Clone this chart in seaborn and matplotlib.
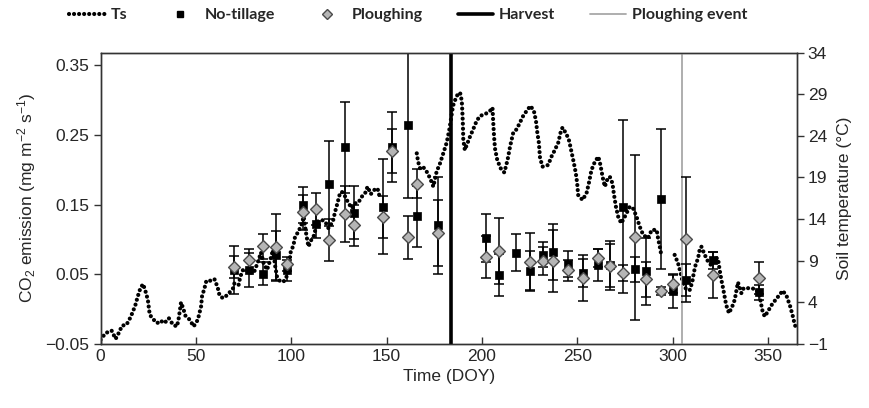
import numpy as np
import pandas as pd
import matplotlib
matplotlib.use("Agg")
import matplotlib.pyplot as plt
import seaborn as sns
from matplotlib.lines import Line2D

# ---------------- data ----------------
# Soil temperature (Ts), three continuous segments (gaps = missing data)
ts_seg1 = [(0, -0.5), (2.6, 0.3), (5.8, 0.6), (7.9, -0.4), (9.5, 0.3), (11.3, 1.2), (13.6, 1.3),
           (15.7, 2.2), (17, 2.9), (18.3, 3.7), (19.5, 4.7), (20.9, 5.7), (22.3, 6.2), (23.6, 5.3),
           (24.8, 4.3), (25.8, 2.5), (27.9, 1.9), (29.7, 1.5), (31.4, 1.8), (33.5, 1.5), (35.8, 2.1),
           (38, 1.3), (40.1, 1.1), (41, 2.1), (42.2, 4.0), (43.3, 3.3), (44.5, 2.4), (46.8, 1.9),
           (48.8, 1.1), (51, 1.9), (52.7, 3.5), (53.2, 4.7), (54.5, 5.7), (55.5, 6.6), (57.6, 6.6),
           (59.7, 6.8), (61.4, 5.8), (62.4, 4.8), (64.2, 4.5), (66.6, 4.9), (69.5, 5.7), (70.2, 6.3),
           (72.4, 6.1), (73.3, 7.1), (74.7, 7.9), (76.4, 8.0), (78.3, 7.6), (80.3, 7.5), (82.9, 9.1),
           (84.1, 10.0), (85.5, 8.7), (87.3, 7.9), (89, 9.1), (90.4, 10.3), (91.6, 8.3), (92.5, 7.1),
           (94.2, 6.5), (96, 6.5), (98.6, 7.5), (99.5, 9.9), (101.2, 10.9), (102, 11.9), (103.8, 12.5),
           (105.6, 13.5), (106.5, 14.3), (107.9, 12.1), (109, 10.7), (110.5, 11.5), (111.7, 11.9),
           (113.8, 13.7), (116, 13.9), (117.8, 13.7), (119.5, 12.9), (121.8, 13.7), (123, 14.9),
           (124.2, 15.9), (125.3, 16.9), (126.5, 17.3), (128.3, 16.7), (130, 15.9), (131.8, 15.3),
           (133.5, 15.9), (135.2, 16.0), (137, 16.7), (138.7, 17.1), (140, 17.9), (141.7, 17.0),
           (143.5, 17.5), (145.2, 17.7), (146.2, 16.8)]
ts_seg2 = [(165.8, 21.9), (166.5, 20.9), (167.5, 20.1), (169, 20.3), (171, 19.7), (172.8, 18.9),
           (174.5, 17.9), (176.2, 19.7), (178, 20.7), (179.7, 21.9), (181.5, 23.2), (182.9, 24.8),
           (184, 26.4), (184.8, 27.6), (186.7, 28.8), (188.5, 29.2), (189.4, 28.2), (189.8, 26.4),
           (190, 25.2), (190.2, 23.5), (191, 22.3), (192, 22.9), (193.7, 23.9), (195.4, 24.8),
           (197.2, 25.8), (199, 26.4), (201.6, 26.6), (204.2, 27.0), (205.5, 27.4), (205.9, 25.6),
           (206.3, 24.0), (206.8, 22.5), (208, 21.1), (209.8, 20.1), (211.7, 19.6), (213.4, 21.1),
           (214.7, 22.7), (216.4, 24.4), (218.2, 24.8), (219.9, 25.6), (221.6, 26.4), (223.4, 27.0),
           (225.4, 27.6), (227.2, 27.0), (228.3, 25.8), (229, 24.4), (229.8, 23.2), (230.4, 21.4),
           (231.7, 20.3), (233.2, 20.4), (234.7, 20.5), (236.4, 21.5), (238.2, 22.3), (240, 23.2),
           (241.2, 24.4), (242.2, 25.0), (244.3, 24.2), (245.7, 23.4), (246.9, 22.1), (248.2, 20.7),
           (249.2, 19.5), (249.9, 18.3), (250.4, 16.9), (252.7, 16.3), (254.8, 17.1), (256.2, 18.5),
           (257.4, 19.9), (259.2, 20.9), (261, 21.5), (262.1, 20.5), (263.2, 19.1), (264.4, 17.9),
           (265.6, 18.7), (267, 19.1), (268.4, 18.3), (269.1, 17.1), (270.2, 15.5), (271.4, 14.3),
           (273, 13.5), (274.9, 14.3), (277.5, 15.5), (279.2, 15.3), (281, 14.3), (282.7, 13.1),
           (284.5, 12.1), (287, 11.7), (289, 12.7), (291.6, 12.7), (292.3, 11.7), (293.2, 10.7),
           (294, 9.7)]
ts_seg3 = [(301, 9.7), (302.8, 8.7), (303.7, 7.9), (305.4, 6.3), (307.2, 5.5), (309, 5.5),
           (310.3, 6.5), (311, 7.5), (312, 8.5), (313.3, 9.3), (314.1, 10.3), (315, 10.7),
           (316.8, 9.7), (318.5, 8.9), (320, 8.5), (322, 9.3), (323.7, 9.3), (324.6, 7.9),
           (325.5, 6.7), (326.4, 5.7), (327.2, 4.7), (328, 3.7), (329.5, 2.7), (331.2, 3.5),
           (332.5, 4.3), (333.3, 5.3), (334.2, 6.4), (336, 5.1), (337.2, 5.7), (339.4, 5.7),
           (341.5, 5.7), (343.8, 5.5), (345.5, 4.9), (346.9, 3.1), (348.2, 2.3), (349.9, 2.9),
           (351.6, 3.6), (353.9, 4.3), (356, 4.9), (357.7, 5.4), (359.8, 4.7), (361.6, 3.5),
           (363, 2.3), (364, 1.3), (365, 0.8)]

# CO2 emission sampling days
co2_doy = [70, 78, 85, 92, 98, 106, 113, 120, 128, 133, 148, 153, 161, 166, 177, 202, 209, 218,
           225, 232, 237, 245, 253, 261, 267, 274, 280, 286, 294, 300, 307, 321, 345]
nt_mean = [0.056, 0.056, 0.051, 0.077, 0.056, 0.149, 0.122, 0.180, 0.232, 0.138, 0.147, 0.233,
           0.264, 0.133, 0.120, 0.102, 0.049, 0.081, 0.055, 0.078, 0.082, 0.065, 0.052, 0.063,
           0.063, 0.147, 0.057, 0.054, 0.158, 0.026, 0.042, 0.070, 0.024]
nt_err = [0.035, 0.025, 0.017, 0.035, 0.015, 0.026, 0.020, 0.061, 0.065, 0.038, 0.068, 0.050,
          0.105, 0.044, 0.070, 0.035, 0.030, 0.027, 0.029, 0.018, 0.040, 0.019, 0.020, 0.023,
          0.031, 0.124, 0.018, 0.048, 0.100, 0.025, 0.023, 0.012, 0.011]
pl_mean = [0.060, 0.070, 0.090, 0.089, 0.065, 0.139, 0.144, 0.099, 0.136, 0.120, 0.132, 0.227,
           0.103, 0.180, 0.109, 0.075, 0.083, np.nan, 0.068, 0.069, 0.069, 0.056, 0.045, 0.073,
           0.062, 0.052, 0.103, 0.043, 0.026, 0.036, 0.100, 0.049, 0.045]
pl_err = [0.016, 0.016, 0.018, 0.048, 0.010, 0.025, 0.023, 0.030, 0.040, 0.029, 0.030, 0.032,
          0.031, 0.021, 0.047, 0.030, 0.047, np.nan, 0.041, 0.020, 0.045, 0.015, 0.033, 0.013,
          0.035, 0.011, 0.118, 0.025, 0.006, 0.013, 0.090, 0.033, 0.023]

harvest_doy = 184
ploughing_doy = 305

x_ticks = [0, 50, 100, 150, 200, 250, 300, 350]
co2_ticks = [-0.05, 0.05, 0.15, 0.25, 0.35]
ts_ticks = [-1, 4, 9, 14, 19, 24, 29, 34]

# ---------------- style ----------------
sns.set_theme(style="white")
plt.rcParams['font.family'] = ['Liberation Sans', 'DejaVu Sans']
plt.rcParams['mathtext.fontset'] = 'custom'
plt.rcParams['mathtext.rm'] = 'Liberation Sans'
plt.rcParams['mathtext.it'] = 'Liberation Sans:italic'
plt.rcParams['mathtext.bf'] = 'Liberation Sans:bold'
plt.rcParams['axes.unicode_minus'] = True

FS = 12.5
DOT_LS = (0, (0.01, 1.2))
DOT_LW = 3.0
SPINE_C = '#333333'

ts_df = pd.concat([
    pd.DataFrame(seg, columns=['doy', 'ts']).assign(seg=i)
    for i, seg in enumerate([ts_seg1, ts_seg2, ts_seg3])
], ignore_index=True)

co2_df = pd.DataFrame({'doy': co2_doy, 'nt': nt_mean, 'nt_err': nt_err,
                       'pl': pl_mean, 'pl_err': pl_err})

fig = plt.figure(figsize=(8.69, 4.08), dpi=100)
ax = fig.add_axes([0.1157, 0.157, 0.8011, 0.714])
ax2 = ax.twinx()

# soil temperature (right axis)
sns.lineplot(data=ts_df, x='doy', y='ts', units='seg', estimator=None, ax=ax2,
             color='black', linewidth=DOT_LW, linestyle=DOT_LS, dash_capstyle='round',
             legend=False)

ax.set_zorder(ax2.get_zorder() + 1)
ax.patch.set_visible(False)

# event lines
ax.axvline(harvest_doy, color='black', lw=2.6, zorder=1)
ax.axvline(ploughing_doy, color='#a8a8a8', lw=1.3, zorder=1)

# error bars
ax.errorbar(co2_df['doy'], co2_df['nt'], yerr=co2_df['nt_err'], fmt='none',
            ecolor='black', elinewidth=1.1, capsize=3.5, capthick=1.1, zorder=2)
ax.errorbar(co2_df['doy'], co2_df['pl'], yerr=co2_df['pl_err'], fmt='none',
            ecolor='black', elinewidth=1.1, capsize=3.5, capthick=1.1, zorder=2)

# markers
sns.scatterplot(data=co2_df, x='doy', y='nt', ax=ax, marker='s', color='black',
                edgecolor='black', s=30, linewidth=0.5, zorder=3, legend=False)
sns.scatterplot(data=co2_df, x='doy', y='pl', ax=ax, marker='D', color='#b5b5b5',
                edgecolor='#4a4a4a', s=36, linewidth=1.0, zorder=4, legend=False)

# axes
ax.set_xlim(0, 365)
ax.set_ylim(-0.05, 0.368)
ax2.set_ylim(-1, 34)
ax.set_xticks(x_ticks)
ax.set_xticklabels([str(v) for v in x_ticks], fontsize=FS)
ax.set_yticks(co2_ticks)
ax.set_yticklabels([f"{v:.2f}".replace('-', '\u2212') for v in co2_ticks], fontsize=FS)
ax2.set_yticks(ts_ticks)
ax2.set_yticklabels([str(v).replace('-', '\u2212') for v in ts_ticks], fontsize=FS)

ax.set_xlabel('Time (DOY)', fontsize=FS, labelpad=3)
ax.set_ylabel('CO$_2$ emission (mg m$^{-2}$ s$^{-1}$)', fontsize=FS, labelpad=5)
ax2.set_ylabel('Soil temperature (°C)', fontsize=FS, labelpad=7)

ax.tick_params(axis='x', direction='in', length=5, width=1, color=SPINE_C, pad=4,
               bottom=True, top=False)
ax.tick_params(axis='y', direction='out', length=5, width=1, color=SPINE_C, pad=3,
               left=True, right=False)
ax2.tick_params(axis='y', direction='out', length=5, width=1, color=SPINE_C, pad=3,
                right=True, left=False)
ax2.set_xlabel('')
for a in (ax, ax2):
    for sp in a.spines.values():
        sp.set_color(SPINE_C)
        sp.set_linewidth(1.0)

# legend
handles = [
    Line2D([], [], color='black', lw=DOT_LW, linestyle=DOT_LS, dash_capstyle='round', label='Ts'),
    Line2D([], [], color='black', marker='s', linestyle='none', markersize=5, label='No-tillage'),
    Line2D([], [], color='#b5b5b5', marker='D', markeredgecolor='#4a4a4a', markeredgewidth=1.0,
           linestyle='none', markersize=5.5, label='Ploughing'),
    Line2D([], [], color='black', lw=2.6, label='Harvest'),
    Line2D([], [], color='#a8a8a8', lw=1.3, label='Ploughing event'),
]
fig.legend(handles=handles, ncol=5, loc='upper center', bbox_to_anchor=(0.47, 1.015),
           frameon=False, prop={'family': ['Lato', 'DejaVu Sans'], 'weight': 'bold', 'size': 11.5},
           handlelength=2.2, columnspacing=2.2, handletextpad=0.4)

fig.savefig('out.png', dpi=100)
